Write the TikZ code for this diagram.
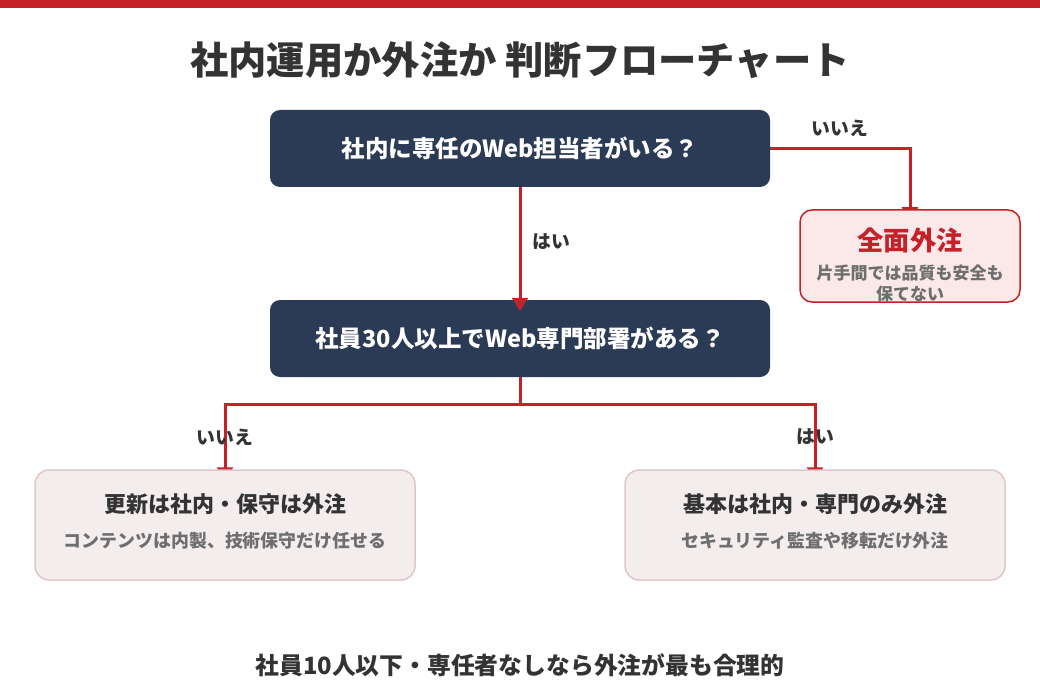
\documentclass[tikz,border=0pt]{standalone}
\usepackage{fontspec}
\setmainfont{Noto Sans CJK JP}
\usetikzlibrary{arrows.meta,backgrounds}
\definecolor{navy}{HTML}{2B3A55}
\definecolor{accent}{HTML}{C62128}
\definecolor{ink}{HTML}{333333}
\definecolor{subgray}{HTML}{6E6E6E}
\definecolor{pinkfill}{HTML}{FBE9EA}
\definecolor{optfill}{HTML}{F4EDED}
\definecolor{optline}{HTML}{DCC8C8}
\tikzset{
  qbox/.style={draw=none, fill=navy, rounded corners=10pt, minimum width=500pt, minimum height=77pt, inner sep=0pt,
    text=white, font=\fontsize{23.5}{27}\selectfont\bfseries},
  resbox/.style={draw=accent, line width=1.5pt, fill=pinkfill, rounded corners=12pt, minimum width=220pt, minimum height=92pt, inner sep=0pt},
  optbox/.style={draw=optline, line width=1.5pt, fill=optfill, rounded corners=14pt, minimum width=380pt, minimum height=110pt, inner sep=0pt},
  opttitle/.style={text=ink, font=\fontsize{22}{26}\selectfont\bfseries, inner sep=0pt},
  optsub/.style={text=subgray, font=\fontsize{17.9}{21}\selectfont\bfseries, inner sep=0pt},
  lbl/.style={text=ink, font=\fontsize{18.8}{22}\selectfont\bfseries, inner sep=0pt},
  conn/.style={draw=accent, line width=3pt, -{Triangle[width=16pt,length=13pt]}, shorten >=-11pt},
  plain/.style={draw=accent, line width=3pt},
}
\begin{document}
\begin{tikzpicture}[x=1pt,y=-1pt]
\useasboundingbox (0,0) rectangle (1040,700);
\fill[accent] (0,0) rectangle (1040,8);

\node[text=ink, font=\fontsize{38.3}{43}\selectfont\bfseries, inner sep=0pt] (title) at (520,60) {社内運用か外注か 判断フローチャート};

\node[qbox] (q1) at (520,148.5) {社内に専任のWeb担当者がいる？};
\node[qbox] (q2) at (520,338.5) {社員30人以上でWeb専門部署がある？};

\node[resbox] (r1) at (910,256) {};
\node[text=accent, font=\fontsize{26.3}{30}\selectfont\bfseries, inner sep=0pt] (r1t) at (910,240) {全面外注};
\node[text=subgray, font=\fontsize{17}{21}\selectfont\bfseries, align=center, inner sep=0pt] (r1s) at (910,283) {片手間では品質も安全も\\保てない};

\node[optbox] (l1) at (225,525) {};
\node[opttitle] (l1t) at (225,504) {更新は社内・保守は外注};
\node[optsub] (l1s) at (225,541) {コンテンツは内製、技術保守だけ任せる};

\node[optbox] (l2) at (815,525) {};
\node[opttitle] (l2t) at (815,504) {基本は社内・専門のみ外注};
\node[optsub] (l2s) at (815,541) {セキュリティ監査や移転だけ外注};

\node[lbl] (lno1) at (840,128) {いいえ};
\node[lbl] (lyes1) at (551,242) {はい};
\node[lbl] (lno2) at (225,437) {いいえ};
\node[lbl] (lyes2) at (815,437) {はい};

\begin{scope}[on background layer]
  \draw[conn] (q1.east) -| (r1.north);
  \coordinate (bj) at (520,404);
  \draw[plain] (q2.south) -- (bj);
  \draw[conn] (bj) -| (l1.north);
  \draw[conn] (bj) -| (l2.north);
\end{scope}
\draw[conn] (q1.south) -- (q2.north);

\node[text=ink, font=\fontsize{23.8}{28}\selectfont\bfseries, inner sep=0pt] (foot) at (520,665) {社員10人以下・専任者なしなら外注が最も合理的};
\end{tikzpicture}
\end{document}
